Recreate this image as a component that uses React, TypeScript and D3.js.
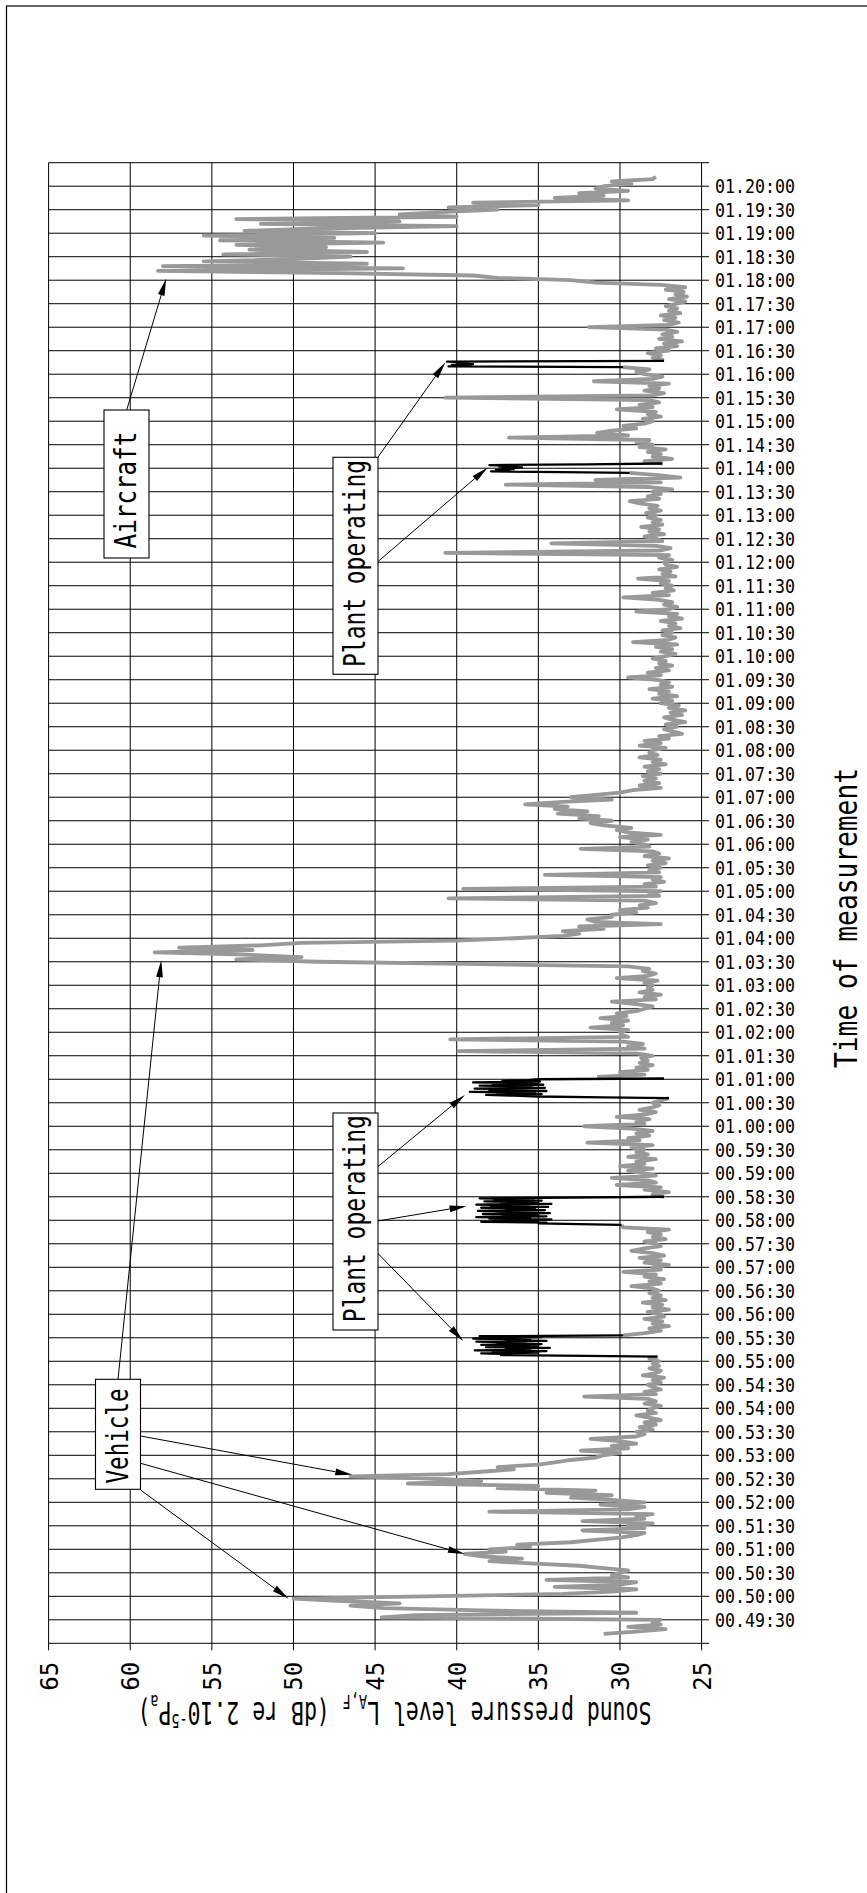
import * as d3 from "d3";

// Sound level L_A,F, one value every 3 s from 00:49:12.
// null = plant operating (drawn as black series below)
const startTime = "00:49:12";
const stepSeconds = 3;
const levelDb: (number | null)[] = [
  31.0, 29.0, 27.2, 29.5, 27.5, 28.0,
  // 00:49:30
  27.5, 44.6, 42.5, 29.0, 38.4, 44.5, 46.5, 43.5, 47.0, 50.0,
  42.0, 33.5, 30.5, 29.0, 34.0, 30.0, 29.0, 34.5, 29.5, 30.5,
  30.0, 29.5, 31.0, 32.5, 35.5, 38.0, 36.0, 38.5, 39.5, 37.0,
  38.0, 35.5, 36.3, 33.0, 31.5, 30.0, 29.0, 28.5, 32.3, 28.5,
  29.5, 28.0, 32.3, 28.5, 29.0, 28.0, 38.0, 29.5, 28.5, 31.2,
  // 00:52:00
  28.5, 30.5, 33.0, 30.5, 34.5, 31.5, 37.5, 35.0, 43.0, 38.5,
  41.0, 46.5, 40.5, 38.5, 36.5, 37.5, 35.0, 34.0, 33.0, 31.5,
  31.0, 30.0, 32.4, 29.5, 30.5, 29.0, 30.0, 31.8, 29.0, 28.5,
  29.0, 28.0, 28.8, 27.8, 28.5, 27.5, 28.2, 29.0, 27.8, 28.3,
  28.0, 27.5, 28.5, 27.8, 28.3, 32.2, 27.8, 28.5, 27.5, 28.0,
  28.3, 27.5, 28.0, 27.3, 28.6, 27.8, 27.5, 28.2, 27.6, 28.0,
  // 00:55:00
  27.6, 28.2, 27.7, null, null, null, null, null, null, null,
  null, 29.8, 28.5, 27.5, 28.2, 27.0, 28.0, 27.4, 28.5, 27.3,
  27.5, 28.3, 27.0, 28.0, 27.4, 28.6, 27.2, 28.0, 27.5, 28.2,
  27.6, 28.0, 29.3, 27.5, 28.2, 27.3, 28.5, 27.8, 29.8, 27.5,
  28.0, 27.0, 28.5, 27.5, 28.8, 27.3, 28.0, 29.3, 28.5, 27.5,
  27.8, 28.5, 27.2, 28.0, 27.5, 28.3, 27.0, 29.8, 29.9, null,
  // 00:58:00
  null, null, null, null, null, null, null, null, null, null,
  27.3, 28.0, 27.0, 28.5, 27.5, 30.2, 27.8, 28.3, 30.5, 27.8,
  28.5, 29.5, 28.0, 30.0, 28.5, 29.0, 27.8, 29.5, 28.3, 29.0,
  28.5, 29.3, 28.0, 32.0, 28.8, 29.5, 28.2, 29.0, 28.0, 29.3,
  32.2, 28.5, 29.0, 28.2, 30.2, 28.5, 27.8, 28.8, 28.0, 27.6,
  28.0, 27.5, 27.0, null, null, null, null, null, null, null,
  // 01:01:00
  null, 31.4, 28.5, 30.0, 28.3, 29.0, 28.0, 28.8, 28.3, 28.7,
  28.0, 29.0, 39.9, 28.5, 29.5, 28.6, 29.8, 40.4, 29.5, 29.9,
  30.0, 29.5, 31.8, 29.8, 30.5, 29.5, 31.2, 29.6, 30.2, 29.0,
  28.5, 28.0, 29.0, 30.5, 27.8, 28.5, 27.5, 28.8, 28.0, 28.3,
  28.0, 28.5, 27.7, 30.2, 28.3, 27.8, 28.6, 28.2, 29.5, 38.5,
  48.5, 53.5, 49.5, 53.0, 58.5, 52.5, 57.0, 52.0, 49.5, 40.0,
  // 01:04:00
  36.5, 33.5, 32.5, 33.5, 31.0, 32.5, 27.5, 31.5, 32.0, 30.5,
  30.5, 29.0, 30.0, 28.3, 28.8, 27.8, 28.5, 40.5, 27.6, 28.2,
  27.5, 39.6, 27.8, 28.5, 27.3, 28.0, 27.5, 34.6, 27.6, 28.2,
  27.5, 28.3, 27.2, 28.0, 27.0, 28.5, 27.6, 28.0, 32.4, 28.2,
  28.5, 29.3, 28.3, 30.0, 27.5, 29.5, 30.2, 29.3, 31.0, 31.8,
  30.5, 32.5, 31.3, 33.8, 32.0, 34.0, 33.2, 35.8, 33.5, 30.5,
  // 01:07:00
  33.0, 31.5, 30.0, 29.2, 27.5, 28.8, 27.6, 28.5, 27.8, 28.6,
  27.5, 28.3, 27.6, 28.5, 27.2, 28.0, 27.5, 28.8, 27.7, 28.2,
  28.0, 27.2, 28.8, 27.5, 28.5, 27.0, 27.6, 26.2, 26.8, 27.3,
  26.5, 27.2, 26.0, 26.8, 27.3, 26.2, 26.9, 26.0, 27.0, 26.4,
  27.5, 26.8, 28.0, 26.5, 27.6, 27.0, 28.2, 26.8, 27.5, 27.0,
  27.8, 29.5, 27.5, 28.3, 27.0, 27.8, 26.8, 27.6, 27.2, 28.0,
  // 01:10:00
  27.2, 26.6, 27.5, 26.8, 27.8, 26.5, 29.2, 27.0, 26.6, 27.4,
  26.8, 27.4, 26.3, 27.0, 26.6, 27.5, 26.2, 27.0, 26.5, 29.0,
  27.0, 26.5, 27.3, 26.8, 27.6, 29.8, 27.0, 28.0, 26.7, 27.2,
  26.8, 27.5, 27.0, 28.9, 26.6, 27.4, 26.9, 27.6, 26.5, 27.2,
  27.3, 26.8, 27.6, 27.0, 40.7, 27.5, 26.9, 27.8, 34.2, 27.4,
  27.8, 28.5, 27.3, 28.2, 27.6, 28.7, 27.4, 28.0, 27.5, 28.3,
  // 01:13:00
  27.8, 28.4, 27.5, 28.2, 27.7, 28.8, 29.4, 27.6, 28.3, 27.5,
  28.0, 26.8, 28.2, 37.0, 27.5, 31.5, 26.3, 27.5, 29.4, null,
  null, null, 27.4, 28.5, 26.8, 28.0, 27.5, 28.3, 27.2, 28.8,
  28.0, 29.0, 28.2, 36.8, 29.5, 31.4, 30.5, 29.0, 29.8, 28.5,
  28.0, 28.6, 27.5, 28.3, 27.8, 30.2, 28.0, 28.8, 27.6, 28.2,
  40.7, 28.0, 27.3, 28.5, 27.6, 28.2, 27.0, 31.6, 28.0, 27.4,
  // 01:16:00
  28.5, 29.0, 28.2, 29.8, null, null, 27.3, 28.0, 27.5, 28.3,
  27.0, 27.8, 26.5, 27.3, 26.2, 27.6, 26.8, 27.4, 26.5, 27.2,
  31.9, 27.0, 26.4, 27.3, 26.6, 27.5, 26.3, 27.0, 26.5, 27.2,
  26.5, 26.0, 27.0, 25.9, 26.6, 26.1, 27.2, 26.0, 27.5, 31.5,
  33.0, 37.5, 39.0, 47.2, 58.3, 43.3, 58.0, 45.5, 55.5, 50.0,
  46.5, 54.3, 45.5, 52.7, 48.0, 53.5, 44.5, 54.5, 47.5, 55.5,
  // 01:19:00
  45.0, 53.0, 48.5, 40.0, 52.0, 43.5, 53.5, 40.0, 43.5, 41.0,
  37.5, 40.5, 35.0, 39.0, 29.5, 34.0, 31.0, 32.5, 29.5, 31.5,
  31.0, 29.3, 30.5, 28.0, 27.8,
];

// Plant operating periods, one value per second
const plantStarts = ["00:55:06", "00:57:54", "01:00:36", "01:13:54", "01:16:09"];
const plant1 = [
  27.7, 32.0, 37.3, 36.0, 38.5, 35.0, 37.8, 34.5, 38.9, 35.5, 37.0, 34.3, 38.2, 36.0,
  35.0, 38.5, 34.8, 37.5, 35.8, 38.8, 34.5, 37.0, 35.5, 39.0, 36.5, 34.8, 38.6, 29.8,
];
const plant2 = [
  29.9, 32.5, 35.0, 34.5, 38.5, 35.0, 37.8, 34.2, 38.0, 35.5, 38.8, 34.5, 37.2, 35.0,
  38.4, 34.3, 37.6, 35.8, 38.7, 34.6, 37.0, 35.2, 38.5, 34.4, 37.9, 35.6, 38.8, 34.2,
  37.3, 35.0, 38.3, 34.8, 37.7, 35.3, 38.6, 33.0, 27.3,
];
const plant3 = [
  27.0, 31.0, 35.0, 36.5, 38.2, 34.8, 37.5, 35.2, 39.2, 34.5, 38.0, 35.8, 38.9, 34.6,
  37.4, 35.4, 38.6, 34.7, 37.8, 35.0, 39.0, 34.9, 37.2, 35.6, 35.0, 27.3,
];
const plant4 = [29.4, 33.5, 37.9, 36.8, 37.6, 36.5, 37.2, 36.0, 37.4, 36.6, 38.0, 32.0, 27.4];
const plant5 = [29.8, 40.5, 39.5, 40.3, 39.0, 40.0, 39.3, 40.6, 27.3];
const plantSeries = [plant1, plant2, plant3, plant4, plant5];

const dbTicks = [65, 60, 55, 50, 45, 40, 35, 30, 25];
const timeRange = ["00:49:00", "01:20:30"];
const timeTickRange = ["00:49:30", "01:20:00"];

// annotation labels and the (time, dB) points their arrows point at
const aircraftLabel = "Aircraft";
const aircraftTargets: [string, number][] = [["01:18:02", 57.8]];
const plantLabel = "Plant operating";
const plantUpperTargets: [string, number][] = [["01:16:15", 40.7], ["01:14:01", 38.1]];
const plantLowerTargets: [string, number][] = [["01:00:40", 39.5], ["00:58:18", 39.4], ["00:55:26", 39.6]];
const vehicleLabel = "Vehicle";
const vehicleTargets: [string, number][] = [
  ["01:03:32", 58.1], ["00:52:35", 46.4], ["00:50:54", 39.5], ["00:49:57", 50.3],
];

const FONT = "DejaVu Sans Mono";
const MONO = 0.602; // advance width of DejaVu Sans Mono, in em

function sec(t: string) {
  const [h, m, s] = t.split(":").map(Number);
  return h * 3600 + m * 60 + s;
}
const pad = (n: number) => String(n).padStart(2, "0");
function fmtTime(t: number) {
  return `${pad(Math.floor(t / 3600))}.${pad(Math.floor((t % 3600) / 60))}:${pad(t % 60)}`;
}
const sx = (chars: number, size: number, target: number) => target / (chars * MONO * size);

function Arrow({ x0, y0, x1, y1 }: { x0: number; y0: number; x1: number; y1: number }) {
  const len = Math.hypot(x1 - x0, y1 - y0);
  const ux = (x1 - x0) / len, uy = (y1 - y0) / len;
  const hl = 17, hw = 3.4;
  const bx = x1 - ux * hl, by = y1 - uy * hl;
  const pts = [[x1, y1], [bx - uy * hw, by + ux * hw], [bx + uy * hw, by - ux * hw]];
  return (
    <g>
      <line x1={x0} y1={y0} x2={bx} y2={by} stroke="#000" strokeWidth={1} />
      <polygon points={pts.map((p) => p.join(",")).join(" ")} fill="#000" />
    </g>
  );
}

function LabelBox({ x0, y0, w, h, label, cy, target }: {
  x0: number; y0: number; w: number; h: number; label: string; cy: number; target: number;
}) {
  const size = 30;
  return (
    <g>
      <rect x={x0} y={y0} width={w} height={h} fill="#fff" stroke="#000" strokeWidth={1.1} />
      <text
        transform={`translate(${x0 + 32},${cy}) rotate(-90) scale(${sx(label.length, size, target)},1)`}
        textAnchor="middle" fontFamily={FONT} fontSize={size} fill="#000">
        {label}
      </text>
    </g>
  );
}

export default function App() {
  const W = 867, H = 1893;
  const left = 48.6, right = 701.6, top = 162.7, bottom = 1643.3;

  const x = d3.scaleLinear().domain([65, 25]).range([left, right]);
  const y = d3.scaleLinear().domain(timeRange.map(sec)).range([bottom, top]);

  const t0 = sec(startTime);
  const greyPath = d3.line<number | null>()
    .defined((v) => v != null)
    .x((v) => x(v as number))
    .y((_, i) => y(t0 + i * stepSeconds))(levelDb);

  const plantPaths = plantSeries.map((vals, k) => {
    const s0 = sec(plantStarts[k]);
    return d3.line<number>().x((v) => x(v)).y((_, i) => y(s0 + i))(vals);
  });

  const gridTimes = d3.range(sec(timeRange[0]), sec(timeRange[1]) + 1, 30);
  const labelTimes = d3.range(sec(timeTickRange[0]), sec(timeTickRange[1]) + 1, 30);
  const pt = ([t, v]: [string, number]) => [x(v), y(sec(t))];

  const arrows = [
    { from: [126.7, 410], to: pt(aircraftTargets[0]) },
    { from: [377.8, 457.3], to: pt(plantUpperTargets[0]) },
    { from: [377.8, 561.7], to: pt(plantUpperTargets[1]) },
    { from: [377.8, 1166.7], to: pt(plantLowerTargets[0]) },
    { from: [377.8, 1221], to: pt(plantLowerTargets[1]) },
    { from: [377.8, 1253.3], to: pt(plantLowerTargets[2]) },
    { from: [118, 1379.3], to: pt(vehicleTargets[0]) },
    { from: [140.6, 1436], to: pt(vehicleTargets[1]) },
    { from: [140.6, 1463.3], to: pt(vehicleTargets[2]) },
    { from: [140.6, 1490], to: pt(vehicleTargets[3]) },
  ];

  const titleSize = 32, subSize = 20;
  const titleNatural = MONO * (36 * titleSize + 6 * subSize);

  return (
    <svg width={W} height={H} style={{ position: "absolute", left: 0, top: 0, background: "#fff" }}>
      {/* page frame */}
      <rect x={6.5} y={6} width={W + 50} height={H + 50} fill="none" stroke="#000" strokeWidth={1.2} />

      {/* grid */}
      {gridTimes.map((t) => (
        <line key={"h" + t} x1={left} x2={709} y1={y(t)} y2={y(t)} stroke="#000" strokeWidth={1} />
      ))}
      {dbTicks.map((d) => (
        <line key={"v" + d} x1={x(d)} x2={x(d)} y1={top} y2={bottom + 7} stroke="#000" strokeWidth={1} />
      ))}

      {/* data */}
      <path d={greyPath ?? ""} fill="none" stroke="#999" strokeWidth={3.8}
        strokeLinejoin="round" />
      {plantPaths.map((p, i) => (
        <path key={i} d={p ?? ""} fill="none" stroke="#000" strokeWidth={2.3}
          strokeLinejoin="round" />
      ))}

      {/* time labels */}
      {labelTimes.map((t) => (
        <text key={"l" + t}
          transform={`translate(715,${y(t) + 7.1}) scale(${sx(8, 19.6, 80)},1)`}
          fontFamily={FONT} fontSize={19.6} fill="#000">
          {fmtTime(t)}
        </text>
      ))}
      {/* dB labels */}
      {dbTicks.map((d) => (
        <text key={"d" + d}
          transform={`translate(${x(d)},1676.3) rotate(-90) scale(${sx(2, 25, 29)},1)`}
          textAnchor="middle" dy="0.36em" fontFamily={FONT} fontSize={25} fill="#000">
          {d}
        </text>
      ))}

      {/* axis titles */}
      <text transform={`translate(857,918) rotate(-90) scale(${sx(19, 32, 300)},1)`}
        textAnchor="middle" fontFamily={FONT} fontSize={32} fill="#000">
        Time of measurement
      </text>
      <text transform={`translate(394.5,1713.3) rotate(180) scale(${514 / titleNatural},1)`}
        y={0.36 * titleSize} textAnchor="middle" fontFamily={FONT} fontSize={titleSize} fill="#000">
        Sound pressure level L
        <tspan dy={7} fontSize={subSize}>A,F</tspan>
        <tspan dy={-7}> (dB re 2.10</tspan>
        <tspan dy={-12} fontSize={subSize}>-5</tspan>
        <tspan dy={12}>P</tspan>
        <tspan dy={7} fontSize={subSize}>a</tspan>
        <tspan dy={-7}>)</tspan>
      </text>

      {/* annotations */}
      {arrows.map((a, i) => (
        <Arrow key={i} x0={a.from[0]} y0={a.from[1]} x1={a.to[0]} y1={a.to[1]} />
      ))}
      <LabelBox x0={104} y0={410} w={45} h={148} label={aircraftLabel} cy={490} target={117} />
      <LabelBox x0={333} y0={457.3} w={45} h={217} label={plantLabel} cy={563.5} target={207} />
      <LabelBox x0={333} y0={1113} w={45} h={217} label={plantLabel} cy={1218.7} target={207} />
      <LabelBox x0={95.5} y0={1379.3} w={45} h={110} label={vehicleLabel} cy={1436} target={95} />
    </svg>
  );
}
